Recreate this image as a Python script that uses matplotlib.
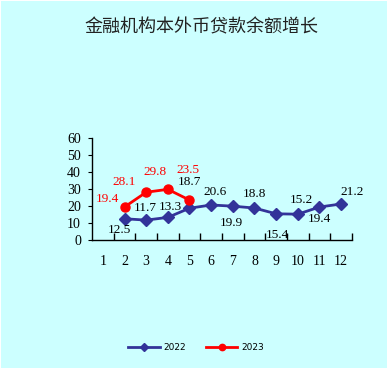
import matplotlib
matplotlib.use("Agg")
import matplotlib.pyplot as plt
from matplotlib.ticker import FixedLocator, NullFormatter

# ---- data ----
months = list(range(1, 13))
m2022 = [2, 3, 4, 5, 6, 7, 8, 9, 10, 11, 12]
v2022 = [12.5, 11.7, 13.3, 18.7, 20.6, 19.9, 18.8, 15.4, 15.2, 19.4, 21.2]
m2023 = [2, 3, 4, 5]
v2023 = [19.4, 28.1, 29.8, 23.5]
yticks = [0, 10, 20, 30, 40, 50, 60]
title = "金融机构本外币贷款余额增长"
series_names = ["2022", "2023"]

# label offsets (layout only, data units)
off2022 = [(-0.24, -6.6), (-0.03, 7.4), (0.12, 6.4), (-0.01, 15.3), (0.18, 7.9),
           (-0.05, -10.1), (-0.01, 8.3), (0.05, -12.45), (0.18, 8.4),
           (-0.02, -7.2), (0.51, 7.3)]
off2023 = [(-0.79, 4.8), (-1.01, 5.9), (-0.61, 10.2), (-0.06, 17.4)]

bg = "#CCFFFF"
c22 = "#333399"
c23 = "#FF0000"
numfont = "Liberation Serif"
fs = 9.5

fig = plt.figure(figsize=(3.88, 3.69), dpi=100)
fig.patch.set_facecolor("white")
fig.add_artist(plt.Rectangle((1/388, 1/369), 386/388, 367/369, transform=fig.transFigure,
                             facecolor=bg, edgecolor="none", zorder=-10))

ax = fig.add_axes([92/388, 1 - 240/369, 260/388, 102/369])
ax.set_facecolor("none")
ax.set_xlim(0.5, 12.5)
ax.set_ylim(0, 60)

ax.plot(m2022, v2022, color=c22, lw=2, marker="D", ms=6, mfc=c22, mec=c22,
        label=series_names[0], zorder=3)
ax.plot(m2023, v2023, color=c23, lw=2, marker="o", ms=6.5, mfc=c23, mec=c23,
        label=series_names[1], zorder=3)

for x, v, (dx, dy) in zip(m2022, v2022, off2022):
    ax.text(x + dx, v + dy, f"{v:.1f}", ha="center", va="center", fontsize=fs,
            family=numfont, color="black", clip_on=False, zorder=4)
for x, v, (dx, dy) in zip(m2023, v2023, off2023):
    ax.text(x + dx, v + dy, f"{v:.1f}", ha="center", va="center", fontsize=fs,
            family=numfont, color=c23, clip_on=False, zorder=4)

for s in ["top", "right"]:
    ax.spines[s].set_visible(False)
for s in ["left", "bottom"]:
    ax.spines[s].set_color("black")
    ax.spines[s].set_linewidth(1)

ax.set_yticks(yticks)
ax.set_yticklabels([str(t) for t in yticks], family=numfont, fontsize=fs + 0.5)
ax.tick_params(axis="y", direction="out", length=3, pad=5)

ax.set_xticks(months)
ax.set_xticklabels([str(m) for m in months], family=numfont, fontsize=fs + 0.5)
ax.tick_params(axis="x", which="major", length=0, pad=11)
ax.xaxis.set_minor_locator(FixedLocator([m + 0.5 for m in months]))
ax.xaxis.set_minor_formatter(NullFormatter())
ax.tick_params(axis="x", which="minor", direction="in", length=5, width=1)

fig.text(201/388, 1 - 27/369, title, ha="center", va="center", fontsize=13,
         family=["Noto Sans CJK SC", "DejaVu Sans"], color="#222222")

leg = fig.legend(loc="center", bbox_to_anchor=(196/388, 1 - 348/369), ncol=2,
                 frameon=False, fontsize=6.5, handlelength=3.5, columnspacing=2.2,
                 handletextpad=0.4, markerscale=0.7)

fig.savefig("out.png", dpi=100, facecolor=fig.get_facecolor())
